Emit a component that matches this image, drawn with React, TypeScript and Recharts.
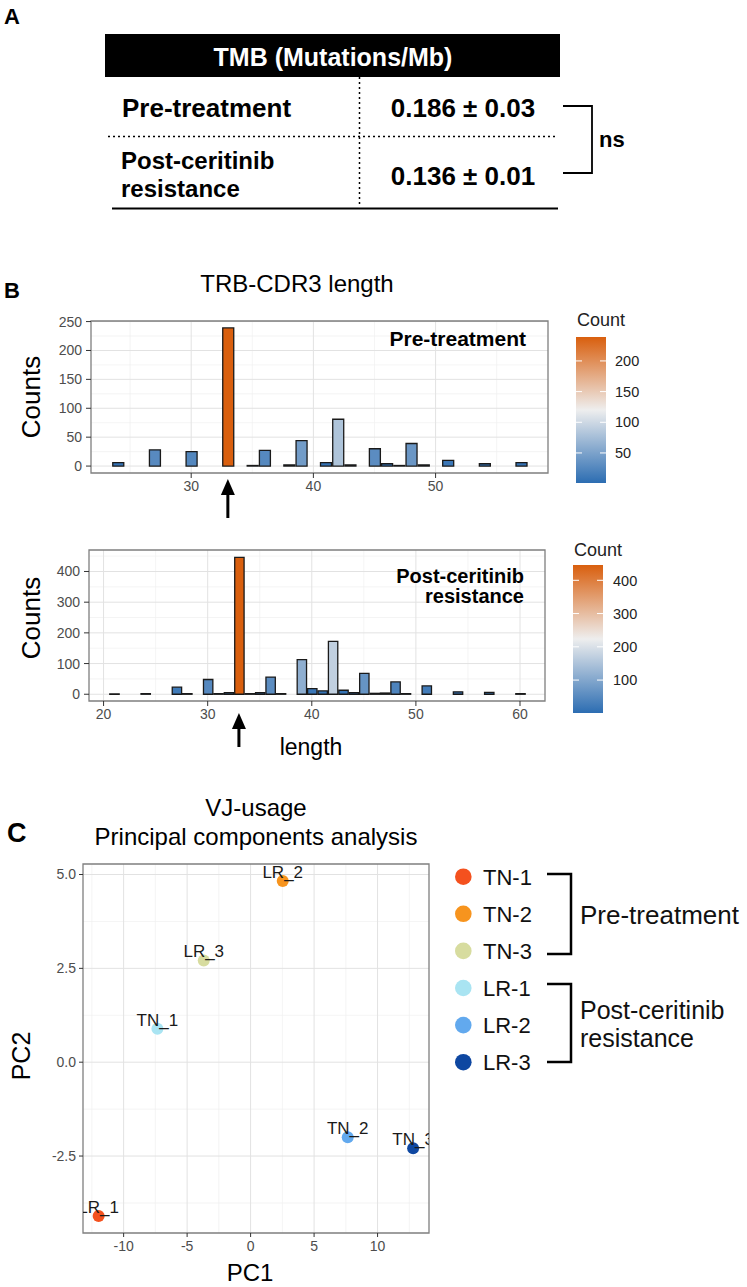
import React from 'react';
import {
  BarChart,
  Bar,
  XAxis,
  YAxis,
  CartesianGrid,
  Cell,
  ReferenceArea,
  ScatterChart,
  Scatter,
} from 'recharts';

const FONT = '"Liberation Sans", Arial, Helvetica, sans-serif';

// A: TMB table
const tmbGroups = ['Pre-treatment', 'Post-ceritinib|resistance'];
const tmbValues = ['0.186 ± 0.03', '0.136 ± 0.01'];
const tmbTest = 'ns';

// B: TRB-CDR3 length, counts per length
const preLengths = [24, 27, 30, 33, 35, 36, 38, 39, 41, 42, 43, 45, 46, 47, 48, 49, 51, 54, 57];
const preCounts = [6, 28, 25, 239, 1, 27, 2, 44, 6, 81, 2, 30, 4, 1, 39, 2, 10, 4, 6];
const postLengths = [21, 24, 27, 28, 30, 31, 32, 33, 34, 35, 36, 37, 39, 40, 41, 42, 43, 44, 45, 46, 47, 48, 49, 51, 54, 57, 60];
const postCounts = [1, 2, 23, 2, 48, 2, 5, 446, 2, 5, 56, 2, 113, 18, 11, 172, 13, 5, 68, 3, 4, 40, 2, 27, 8, 6, 2];

const preXTicks = [30, 40, 50];
const preXMinor = [25, 35, 45, 55];
const preYTicks = [0, 50, 100, 150, 200, 250];
const preYMinor = [25, 75, 125, 175, 225];
const preBarTicks = [50, 100, 150, 200];

const postXTicks = [20, 30, 40, 50, 60];
const postXMinor = [25, 35, 45, 55];
const postYTicks = [0, 100, 200, 300, 400];
const postYMinor = [50, 150, 250, 350, 450];
const postBarTicks = [100, 200, 300, 400];

// C: VJ-usage PCA
const pcaNames = ['LR_1', 'LR_2', 'LR_3', 'TN_1', 'TN_2', 'TN_3'];
const pc1 = [-11.97, 2.53, -3.69, -7.34, 7.65, 12.8];
const pc2 = [-4.1, 4.83, 2.71, 0.89, -2.0, -2.29];
const sampleColors = ['#f4511e', '#f7941e', '#d7dc9f', '#a9e4f2', '#62a9ee', '#0e47a1'];
const legendNames = ['TN-1', 'TN-2', 'TN-3', 'LR-1', 'LR-2', 'LR-3'];
const pcXTicks = [-10, -5, 0, 5, 10];
const pcXMinor = [-12.5, -7.5, -2.5, 2.5, 7.5, 12.5];
const pcYTicks = [-2.5, 0, 2.5, 5];
const pcYMinor = [-3.75, -1.25, 1.25, 3.75];

const LOW = [44, 109, 178];
const MID = [238, 238, 238];
const HIGH = [217, 95, 14];

function mix(a: number[], b: number[], t: number) {
  const c = a.map((v, i) => Math.round(v + (b[i] - v) * t));
  return `rgb(${c[0]},${c[1]},${c[2]})`;
}

function countColor(v: number, lo: number, hi: number) {
  const t = (v - lo) / (hi - lo);
  return t < 0.5 ? mix(LOW, MID, t * 2) : mix(MID, HIGH, (t - 0.5) * 2);
}

const CHART_W = 560;
const CHART_H = 200;
const Y_AXIS_W = 40;

type HistProps = {
  top: number;
  mLeft: number;
  mRight: number;
  mTop: number;
  xAxisH: number;
  lengths: number[];
  counts: number[];
  xDomain: number[];
  yDomain: number[];
  xTicks: number[];
  xMinor: number[];
  yTicks: number[];
  yMinor: number[];
};

const plotLeftOf = (p: HistProps) => p.mLeft + Y_AXIS_W;
const unitOf = (p: HistProps) =>
  (CHART_W - p.mLeft - Y_AXIS_W - p.mRight) / (p.xDomain[1] - p.xDomain[0]);

const Histogram = (p: HistProps) => {
  const data = p.lengths.map((length, i) => ({ length, count: p.counts[i] }));
  const lo = Math.min(...p.counts);
  const hi = Math.max(...p.counts);
  return (
    <div style={{ position: 'absolute', left: 0, top: p.top }}>
      <BarChart
        width={CHART_W}
        height={CHART_H}
        data={data}
        margin={{ top: p.mTop, right: p.mRight, left: p.mLeft, bottom: 0 }}
        style={{ fontFamily: FONT }}
      >
        <CartesianGrid horizontalValues={p.yMinor} verticalValues={p.xMinor} stroke="#efefef" strokeWidth={0.7} />
        <CartesianGrid horizontalValues={p.yTicks} verticalValues={p.xTicks} stroke="#e2e2e2" strokeWidth={1} />
        <XAxis
          type="number"
          dataKey="length"
          domain={p.xDomain}
          allowDataOverflow
          ticks={p.xTicks}
          height={p.xAxisH}
          axisLine={false}
          tickSize={5}
          tickMargin={3}
          tickLine={{ stroke: '#333' }}
          tick={{ fill: '#4d4d4d', fontSize: 14 }}
        />
        <YAxis
          type="number"
          domain={p.yDomain}
          allowDataOverflow
          ticks={p.yTicks}
          width={Y_AXIS_W}
          axisLine={false}
          tickSize={5}
          tickMargin={4}
          tickLine={{ stroke: '#333' }}
          tick={{ fill: '#4d4d4d', fontSize: 14 }}
        />
        <Bar
          dataKey="count"
          barSize={unitOf(p)}
          stroke="#1a1a1a"
          strokeWidth={1.3}
          isAnimationActive={false}
        >
          {data.map((d) => (
            <Cell key={d.length} fill={countColor(d.count, lo, hi)} />
          ))}
        </Bar>
        <ReferenceArea
          x1={p.xDomain[0]}
          x2={p.xDomain[1]}
          y1={p.yDomain[0]}
          y2={p.yDomain[1]}
          fill="none"
          stroke="#7f7f7f"
          strokeWidth={1.3}
          ifOverflow="visible"
        />
      </BarChart>
    </div>
  );
};

const preHist: HistProps = {
  top: 300, mLeft: 51, mRight: 12, mTop: 21, xAxisH: 27,
  lengths: preLengths, counts: preCounts,
  xDomain: [21.8, 59.2], yDomain: [-12, 251],
  xTicks: preXTicks, xMinor: preXMinor, yTicks: preYTicks, yMinor: preYMinor,
};

const postHist: HistProps = {
  top: 530, mLeft: 49, mRight: 15, mTop: 20, xAxisH: 29,
  lengths: postLengths, counts: postCounts,
  xDomain: [18.6, 62.4], yDomain: [-22, 470],
  xTicks: postXTicks, xMinor: postXMinor, yTicks: postYTicks, yMinor: postYMinor,
};

// x pixel of the most frequent length, for the arrow under each panel
const peakX = (p: HistProps) => {
  const peak = p.lengths[p.counts.indexOf(Math.max(...p.counts))];
  return plotLeftOf(p) + (peak - p.xDomain[0]) * unitOf(p);
};

const Arrow = ({ x, tip, tail }: { x: number; tip: number; tail: number }) => (
  <g>
    <line x1={x} y1={tip + 12} x2={x} y2={tail} stroke="#000" strokeWidth={3} />
    <path d={`M${x} ${tip} L${x - 7} ${tip + 16} L${x + 7} ${tip + 16} Z`} fill="#000" />
  </g>
);

type BarLegendProps = {
  id: string; x: number; y: number; w: number; h: number;
  titleY: number; labelX: number; counts: number[]; ticks: number[];
};

const ColourBar = ({ id, x, y, w, h, titleY, labelX, counts, ticks }: BarLegendProps) => {
  const lo = Math.min(...counts);
  const hi = Math.max(...counts);
  const yOf = (v: number) => y + h - ((v - lo) / (hi - lo)) * h;
  return (
    <g>
      <defs>
        <linearGradient id={id} x1="0" y1="1" x2="0" y2="0">
          <stop offset="0%" stopColor={mix(LOW, LOW, 0)} />
          <stop offset="50%" stopColor={mix(MID, MID, 0)} />
          <stop offset="100%" stopColor={mix(HIGH, HIGH, 0)} />
        </linearGradient>
      </defs>
      <text x={x + 1} y={titleY} fontSize={18} fill="#222">Count</text>
      <rect x={x} y={y} width={w} height={h} fill={`url(#${id})`} />
      {ticks.map((t) => (
        <g key={t}>
          <line x1={x} x2={x + 6} y1={yOf(t)} y2={yOf(t)} stroke="#fff" strokeWidth={1} />
          <line x1={x + w - 6} x2={x + w} y1={yOf(t)} y2={yOf(t)} stroke="#fff" strokeWidth={1} />
          <text x={labelX} y={yOf(t)} dy="0.36em" fontSize={14.5} fill="#222">{t}</text>
        </g>
      ))}
    </g>
  );
};

const pcaData = pcaNames.map((name, i) => ({ name, pc1: pc1[i], pc2: pc2[i] }));

const PcaPoint = (props: any) => {
  const { cx, cy, fill, payload } = props;
  return (
    <g>
      <circle cx={cx} cy={cy} r={6} fill={fill} />
      <text x={cx} y={cy - 3} textAnchor="middle" fontSize={17} fill="#1a1a1a">{payload.name}</text>
    </g>
  );
};

const PcaChart = () => (
  <div style={{ position: 'absolute', left: 0, top: 840 }}>
    <ScatterChart
      width={440}
      height={420}
      margin={{ top: 24, right: 11, left: 43, bottom: 0 }}
      style={{ fontFamily: FONT }}
    >
      <CartesianGrid horizontalValues={pcYMinor} verticalValues={pcXMinor} stroke="#efefef" strokeWidth={0.7} />
      <CartesianGrid horizontalValues={pcYTicks} verticalValues={pcXTicks} stroke="#e2e2e2" strokeWidth={1} />
      <XAxis
        type="number"
        dataKey="pc1"
        domain={[-13.2, 14.05]}
        allowDataOverflow
        ticks={pcXTicks}
        height={27}
        axisLine={false}
        tickSize={4}
        tickMargin={4}
        tickLine={{ stroke: '#333' }}
        tick={{ fill: '#4d4d4d', fontSize: 14 }}
      />
      <YAxis
        type="number"
        dataKey="pc2"
        domain={[-4.55, 5.28]}
        allowDataOverflow
        ticks={pcYTicks}
        tickFormatter={(v: number) => v.toFixed(1)}
        width={40}
        axisLine={false}
        tickSize={4}
        tickMargin={3}
        tickLine={{ stroke: '#333' }}
        tick={{ fill: '#4d4d4d', fontSize: 14 }}
      />
      <Scatter data={pcaData} shape={PcaPoint} isAnimationActive={false}>
        {pcaData.map((d, i) => (
          <Cell key={d.name} fill={sampleColors[i]} />
        ))}
      </Scatter>
      <ReferenceArea
        x1={-13.2}
        x2={14.05}
        y1={-4.55}
        y2={5.28}
        fill="none"
        stroke="#7f7f7f"
        strokeWidth={1.3}
        ifOverflow="visible"
      />
    </ScatterChart>
  </div>
);

const Overlay = () => {
  const preX = peakX(preHist);
  const postX = peakX(postHist);
  const legendY0 = 876.7;
  const legendStep = 37.1;
  return (
    <svg
      width={747}
      height={1287}
      style={{ position: 'absolute', left: 0, top: 0, pointerEvents: 'none', fontFamily: FONT }}
    >
      {/* A */}
      <text x={4} y={24} fontSize={22} fontWeight="bold">A</text>
      <rect x={105} y={34} width={455} height={43} fill="#000" />
      <text x={333} y={66} fontSize={25} fontWeight="bold" fill="#fff" textAnchor="middle">
        TMB (Mutations/Mb)
      </text>
      <line x1={359.5} x2={359.5} y1={77} y2={206} stroke="#000" strokeWidth={1.5} strokeDasharray="2 3" />
      <line x1={108} x2={555} y1={136.5} y2={136.5} stroke="#000" strokeWidth={1.5} strokeDasharray="2 3" />
      <line x1={112} x2={558} y1={208.5} y2={208.5} stroke="#000" strokeWidth={2} />
      <text x={122} y={117} fontSize={26} fontWeight="bold">{tmbGroups[0]}</text>
      <text x={121} y={169} fontSize={24} fontWeight="bold">{tmbGroups[1].split('|')[0]}</text>
      <text x={121} y={197} fontSize={24} fontWeight="bold">{tmbGroups[1].split('|')[1]}</text>
      <text x={463} y={117} fontSize={26} fontWeight="bold" textAnchor="middle">{tmbValues[0]}</text>
      <text x={463} y={185} fontSize={26} fontWeight="bold" textAnchor="middle">{tmbValues[1]}</text>
      <path d="M563 106 H592 V173 H563" fill="none" stroke="#000" strokeWidth={1.8} />
      <text x={599} y={147} fontSize={22} fontWeight="bold">{tmbTest}</text>

      {/* B */}
      <text x={4} y={298} fontSize={22} fontWeight="bold">B</text>
      <text x={297} y={292} fontSize={24} textAnchor="middle">TRB-CDR3 length</text>
      <text x={31} y={397} fontSize={26} textAnchor="middle" dominantBaseline="central" transform="rotate(-90 31 397)">Counts</text>
      <text x={31} y={618} fontSize={26} textAnchor="middle" dominantBaseline="central" transform="rotate(-90 31 618)">Counts</text>
      <text x={526} y={346} fontSize={21} fontWeight="bold" textAnchor="end">Pre-treatment</text>
      <text x={524} y={583} fontSize={20} fontWeight="bold" textAnchor="end">Post-ceritinib</text>
      <text x={524} y={603} fontSize={20} fontWeight="bold" textAnchor="end">resistance</text>
      <Arrow x={preX} tip={479} tail={518} />
      <Arrow x={postX} tip={713} tail={747} />
      <text x={311} y={755} fontSize={23} textAnchor="middle">length</text>
      <ColourBar id="cb1" x={576} y={337} w={30} h={146} titleY={326} labelX={615} counts={preCounts} ticks={preBarTicks} />
      <ColourBar id="cb2" x={573} y={565} w={30} h={148} titleY={556} labelX={613} counts={postCounts} ticks={postBarTicks} />

      {/* C */}
      <text x={7} y={842} fontSize={27} fontWeight="bold">C</text>
      <text x={256} y={816} fontSize={24} textAnchor="middle">VJ-usage</text>
      <text x={256} y={845} fontSize={24} textAnchor="middle">Principal components analysis</text>
      <text x={21} y={1056} fontSize={25} textAnchor="middle" dominantBaseline="central" transform="rotate(-90 21 1056)">PC2</text>
      <text x={250} y={1281} fontSize={24} textAnchor="middle">PC1</text>

      {legendNames.map((name, i) => (
        <g key={name}>
          <circle cx={463.3} cy={legendY0 + i * legendStep} r={8.3} fill={sampleColors[i]} />
          <text x={483} y={legendY0 + i * legendStep} dy="0.36em" fontSize={22} fill="#111">{name}</text>
        </g>
      ))}
      <path d="M547 874 H571 V954 H547" fill="none" stroke="#000" strokeWidth={2.5} />
      <path d="M547 984 H571 V1062 H547" fill="none" stroke="#000" strokeWidth={2.5} />
      <text x={580} y={915} dy="0.36em" fontSize={26} fill="#111">Pre-treatment</text>
      <text x={580} y={1010} dy="0.36em" fontSize={25} fill="#111">Post-ceritinib</text>
      <text x={580} y={1038} dy="0.36em" fontSize={25} fill="#111">resistance</text>
    </svg>
  );
};

const App = () => (
  <div style={{ position: 'absolute', left: 0, top: 0, width: 747, height: 1287, background: '#fff', fontFamily: FONT }}>
    <Histogram {...preHist} />
    <Histogram {...postHist} />
    <PcaChart />
    <Overlay />
  </div>
);

export default App;
